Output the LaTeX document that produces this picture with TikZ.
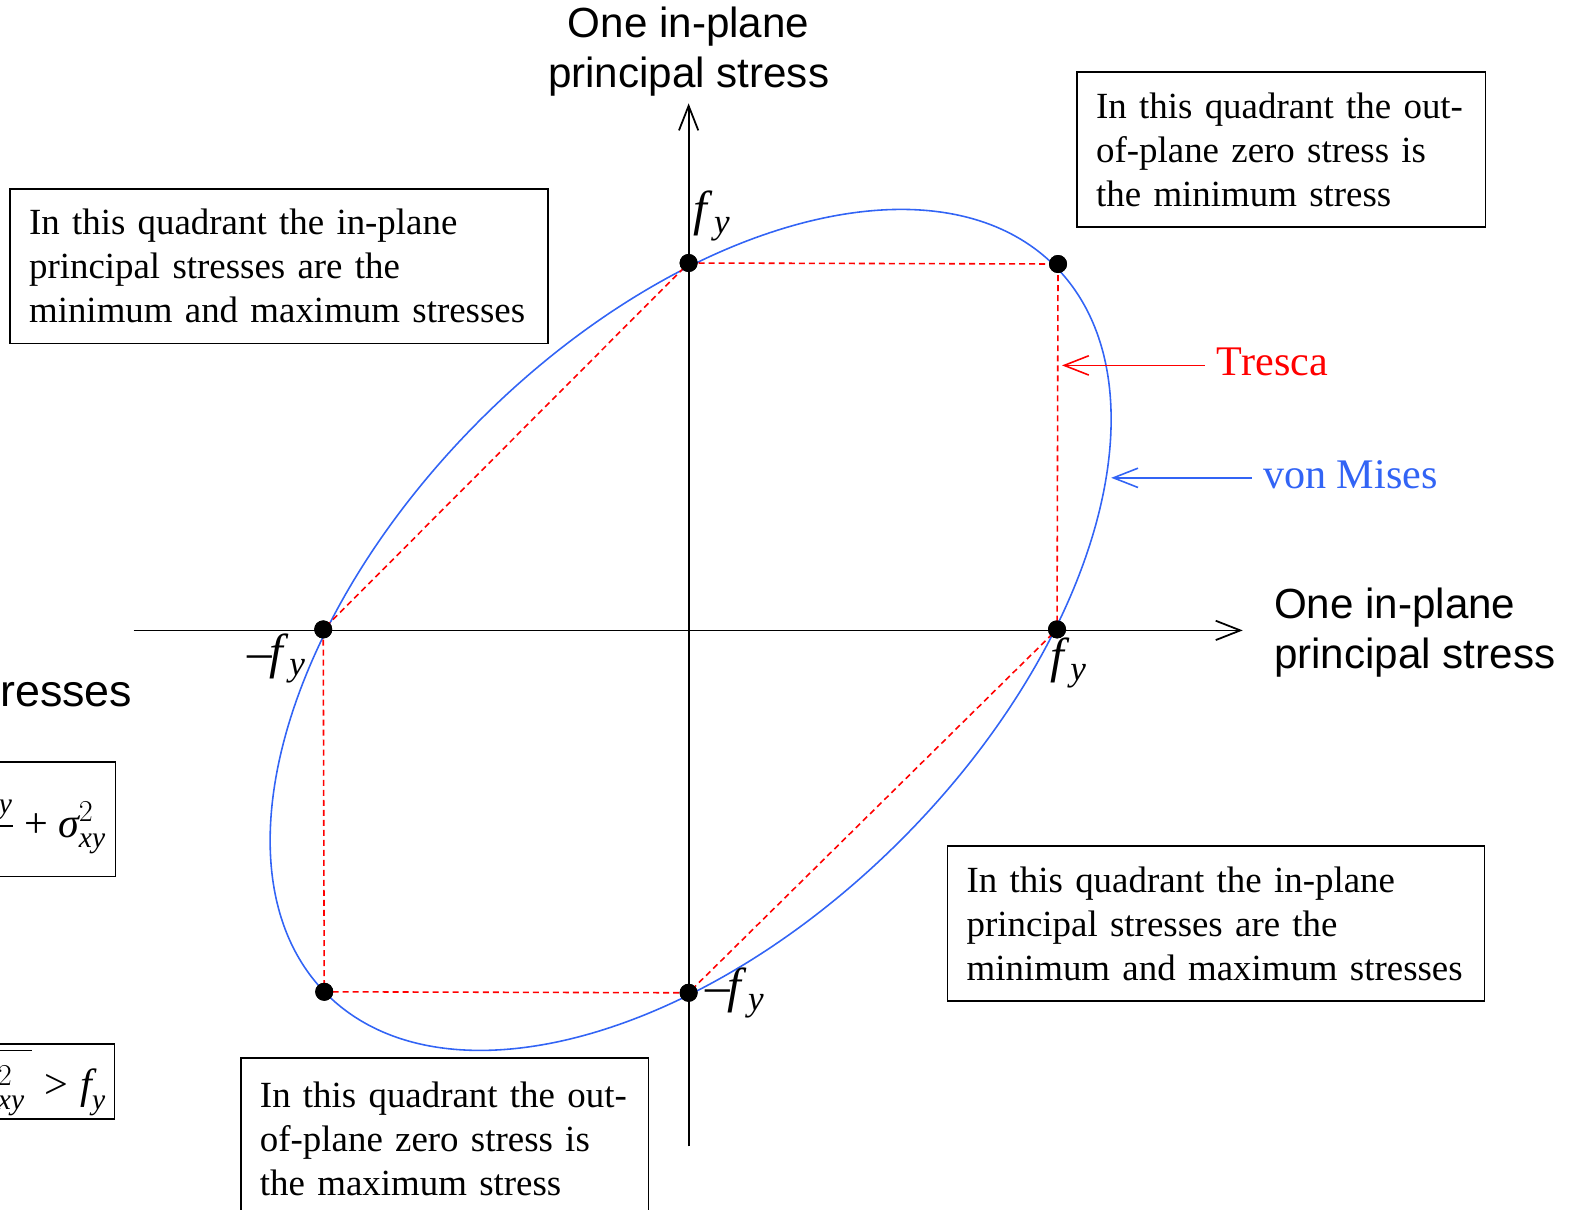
\documentclass[tikz,border=0pt]{standalone}
\usepackage{amsmath}
\usepackage{fontspec}
\setmainfont{Liberation Serif}
\setsansfont{Liberation Sans}
\usetikzlibrary{arrows.meta}
\definecolor{vmblue}{RGB}{50,100,245}
\definecolor{trred}{RGB}{255,0,0}
\newcommand{\fyl}{\textit{f}\kern0.02em\raisebox{-0.35ex}{\fontsize{20}{20}\selectfont\textit{y}}}
\newcommand{\tsig}{\text{\itshape σ}}
\newcommand{\tit}[1]{\text{\itshape #1}}
\newcommand{\tplus}{\mathbin{\text{+}}}
\newcommand{\tminus}{\mathbin{\text{−}}}
\newcommand{\tgt}{\mathrel{\text{>}}}
\begin{document}
\begin{tikzpicture}[x=0.020076cm,y=-0.020076cm,
  quadbox/.style={draw, line width=0.9pt, align=left, anchor=north west,
    inner xsep=0.381cm, inner ysep=0pt, outer sep=0pt, minimum height=3.092cm,
    font=\fontsize{21}{25}\selectfont},
  axislabel/.style={font=\sffamily\fontsize{24}{28.5}\selectfont},
  fylabel/.style={font=\fontsize{28}{30}\selectfont, inner sep=0pt},
  axisline/.style={line width=1pt, -{Straight Barb[length=14pt,width=11pt,line width=1pt]}},
  tresca/.style={trred, line width=0.9pt, dash pattern=on 3.4pt off 2.3pt},
  vonmises/.style={vmblue, line width=0.9pt},
  pt/.style={circle, fill=black, inner sep=0pt, minimum size=0.36cm},
  formbox/.style={draw, line width=0.9pt},
  formula/.style={anchor=east, inner sep=0pt, font=\fontsize{24}{28}\selectfont}
]
\useasboundingbox (0,0) rectangle (1568,1205.3);

% axes
\coordinate (O) at (686,628);
\coordinate (E) at (688,627.5);
\coordinate (xa) at (133,628);
\coordinate (xb) at (1238,628);
\coordinate (ya) at (686,1142);
\coordinate (yb) at (686,103);
\draw[axisline] (xa) -- (xb);
\draw[axisline] (ya) -- (yb);

% von Mises ellipse
\draw[vonmises, rotate around={45:(E)}] (E) ellipse [x radius=10.30cm, y radius=5.947cm];

% Tresca hexagon
\node[pt] (p1) at (686,262) {};
\node[pt] (p2) at (1054,263) {};
\node[pt] (p3) at (1053,627) {};
\node[pt] (p4) at (686,989) {};
\node[pt] (p5) at (323,988) {};
\node[pt] (p6) at (322,627) {};
\draw[tresca] (p1.center) -- (p2.center) -- (p3.center) -- (p4.center) -- (p5.center) -- (p6.center) -- cycle;
\foreach \p in {p1,p2,p3,p4,p5,p6} \fill (\p) circle (0.18cm);

% fy labels
\node[fylabel] (l1) at (709,215) {\fyl};
\node[fylabel] (l6) at (275,656) {\textendash\kern-0.05em\fyl};
\node[fylabel] (l3) at (1064,660) {\fyl};
\node[fylabel] (l4) at (732,989) {\textendash\kern-0.05em\fyl};

% axis labels
\node[axislabel, align=center] (ytitle) at (686,51) {One in-plane\\principal stress};
\node[axislabel, align=left, anchor=west] (xtitle) at (1263,630) {One in-plane\\principal stress};

% Tresca / von Mises labels
\node[trred, font=\fontsize{24}{28}\selectfont, anchor=west, inner sep=0pt] (trl) at (1212,361) {Tresca};
\node[vmblue, font=\fontsize{24}{28}\selectfont, anchor=west, inner sep=0pt] (vml) at (1258,473) {von Mises};
\coordinate (tra) at (1200,364);
\coordinate (trb) at (1058,364);
\coordinate (vma) at (1247,476);
\coordinate (vmb) at (1107,476);
\draw[trred, line width=0.9pt, -{Straight Barb[length=14pt,width=11pt,line width=0.9pt]}] (tra) -- (trb);
\draw[vmblue, line width=0.9pt, -{Straight Barb[length=14pt,width=11pt,line width=0.9pt]}] (vma) -- (vmb);

% quadrant boxes
\node[quadbox, text width=10.0cm] (qtl) at (10,188) {In this quadrant the in-plane\\principal stresses are the\\minimum and maximum stresses};
\node[quadbox, text width=7.41cm] (qtr) at (1073,72) {In this quadrant the out-\\of-plane zero stress is\\the minimum stress};
\node[quadbox, text width=9.98cm] (qbr) at (944,843) {In this quadrant the in-plane\\principal stresses are the\\minimum and maximum stresses};
\node[quadbox, text width=7.39cm, minimum height=3.22cm] (qbl) at (240,1054) {In this quadrant the out-\\of-plane zero stress is\\the maximum stress};

% partially visible left-hand items
\node[axislabel, anchor=east, inner sep=0pt, font=\sffamily\fontsize{25.5}{30}\selectfont] (res) at (132,692) {resses};
\draw[formbox] (-20,759) rectangle (115,873);
\node[formula] (f1) at (106,822) {$\dfrac{\tsig_{\tit{xx}}\tplus\tsig_{\tit{yy}}}{2}\tplus\tsig^{2}_{\tit{xy}}$};
\draw[formbox] (-20,1040) rectangle (114,1115);
\node[formula] (f2) at (106,1084) {$\sqrt{\tsig_{\tit{xx}}^{2}\tplus\tsig_{\tit{yy}}^{2}\tminus\tsig_{\tit{xx}}\tsig_{\tit{yy}}\tplus 3\tsig^{2}_{\tit{xy}}\,}\tgt\tit{f}_{\tit{y}}$};
\end{tikzpicture}
\end{document}
